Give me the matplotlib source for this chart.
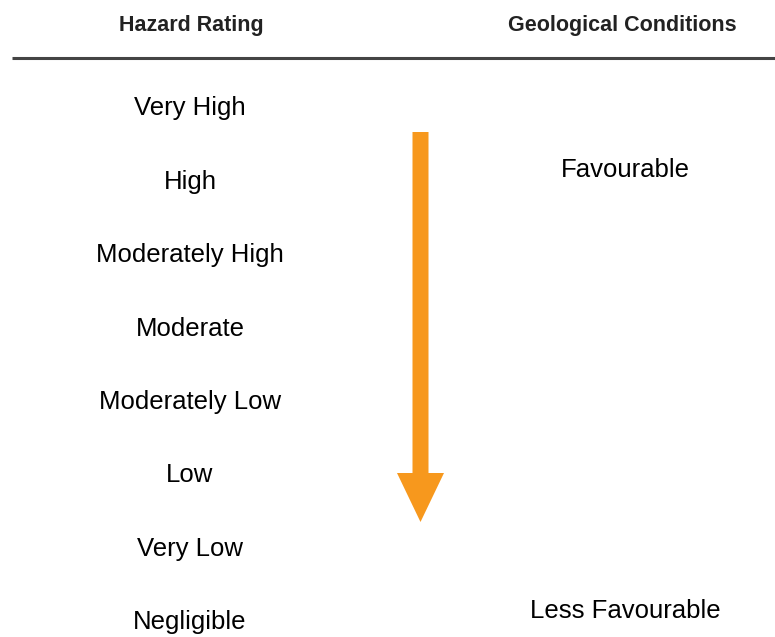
import matplotlib.pyplot as plt
from matplotlib.patches import FancyArrow
from matplotlib import font_manager

# Data
hazard_ratings = ["Very High", "High", "Moderately High", "Moderate",
                  "Moderately Low", "Low", "Very Low", "Negligible"]
conditions = ["Favourable", "Less Favourable"]
condition_rows = [0.85, 6.85]   # position in rating rows
headers = ["Hazard Rating", "Geological Conditions"]

# pick a narrow font if available
names = {f.name for f in font_manager.fontManager.ttflist}
FONT = "Liberation Sans Narrow" if "Liberation Sans Narrow" in names else "Liberation Sans"

W, H = 775, 637
fig = plt.figure(figsize=(W / 100, H / 100), dpi=100)
ax = fig.add_axes([0, 0, 1, 1])
ax.set_xlim(0, W)
ax.set_ylim(H, 0)
ax.axis("off")

row_y0, row_step = 108, 73.5

ax.text(191, 25, headers[0], ha="center", va="center", fontsize=15.5,
        fontweight="bold", family=FONT, color="#222222")
ax.text(622, 25, headers[1], ha="center", va="center", fontsize=15.5,
        fontweight="bold", family=FONT, color="#222222")
ax.plot([12, 775], [57.5, 57.5], color="#444444", lw=2.2, solid_capstyle="butt")

for i, r in enumerate(hazard_ratings):
    ax.text(190, row_y0 + i * row_step, r, ha="center", va="center",
            fontsize=18.5, family=FONT, color="black")

for c, pos in zip(conditions, condition_rows):
    ax.text(625, row_y0 + pos * row_step, c, ha="center", va="center",
            fontsize=18.5, family=FONT, color="black")

arrow = FancyArrow(420.5, 132, 0, 390, width=16, head_width=47,
                   head_length=49, length_includes_head=True,
                   color="#F7981D", lw=0)
ax.add_patch(arrow)

fig.savefig("out.png", dpi=100)
